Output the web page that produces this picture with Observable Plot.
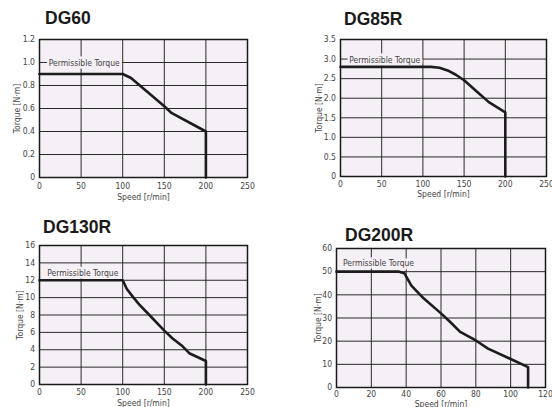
<!DOCTYPE html>
<html><head><meta charset="utf-8">
<script src="https://cdn.jsdelivr.net/npm/d3@7"></script>
<script src="https://cdn.jsdelivr.net/npm/@observablehq/plot@0.6"></script>
<style>
html,body{margin:0;padding:0;background:#fff;}
#root{position:relative;width:552px;height:407px;overflow:hidden;background:#fff;}
.title{position:absolute;font-family:"Liberation Sans",Arial,sans-serif;font-weight:bold;font-size:17.5px;line-height:1;color:#1a1a1a;white-space:nowrap;}
.panel{position:absolute;}
</style></head><body><div id="root"></div>
<script>
// ---- data ----
const titles = ["DG60", "DG85R", "DG130R", "DG200R"];
const labelText = "Permissible Torque";
const xLabel = "Speed [r/min]";
const yLabel = "Torque [N·m]";

const speedTicks250 = [0, 50, 100, 150, 200, 250];
const speedTicks120 = [0, 20, 40, 60, 80, 100, 120];
const dg60Ticks = [0, 0.2, 0.4, 0.6, 0.8, 1.0, 1.2];
const dg85Ticks = [0, 0.5, 1.0, 1.5, 2.0, 2.5, 3.0, 3.5];
const dg130Ticks = [0, 2, 4, 6, 8, 10, 12, 14, 16];
const dg200Ticks = [0, 10, 20, 30, 40, 50, 60];

const dg60Speed  = [0, 100, 110, 150, 158, 200, 200];
const dg60Torque = [0.9, 0.9, 0.865, 0.62, 0.565, 0.4, 0];

const dg85Speed  = [0, 110, 120, 130, 140, 150, 165, 180, 200, 200];
const dg85Torque = [2.8, 2.8, 2.78, 2.71, 2.6, 2.46, 2.18, 1.9, 1.64, 0];

const dg130Speed  = [0, 100, 105, 113, 120, 130, 150, 160, 172, 180, 200, 200];
const dg130Torque = [12, 12, 11, 10, 9.2, 8.2, 6.2, 5.3, 4.4, 3.6, 2.7, 0];

const dg200Speed  = [0, 36, 39, 43, 50, 60, 65, 71, 80, 87, 100, 110, 110];
const dg200Torque = [50, 50, 49.3, 44, 38.5, 32, 28.5, 24, 20.3, 16.8, 12.3, 8.8, 0];

// label anchor positions (data units)
const labelPos = [[11, 1.0], [10.5, 3.0], [9.3, 12.9], [3.7, 54]];

// ---- drawing ----
const FONT = "'Liberation Sans Narrow','DejaVu Sans Condensed','Arial Narrow',sans-serif";
const BG = "#f5f0f6";
const fmt1 = d => d === 0 ? "0" : d.toFixed(1);
const fmt0 = d => String(d);

const panels = [
  {area:[39,39,247,177], xDomain:[0,250], xTicks:speedTicks250, yDomain:[0,1.2], yTicks:dg60Ticks, yFmt:fmt1,
   speed:dg60Speed, torque:dg60Torque, yOff:26, xPad:5, xOff:22, title:[45,10.2]},
  {area:[340,39,546,176], xDomain:[0,250], xTicks:speedTicks250, yDomain:[0,3.5], yTicks:dg85Ticks, yFmt:fmt1,
   speed:dg85Speed, torque:dg85Torque, yOff:25, xPad:4.5, xOff:20.5, title:[344,11.2]},
  {area:[39,245,247,384], xDomain:[0,250], xTicks:speedTicks250, yDomain:[0,16], yTicks:dg130Ticks, yFmt:fmt0,
   speed:dg130Speed, torque:dg130Torque, yOff:23, xPad:4.5, xOff:21, title:[43,218.5]},
  {area:[336,248,545,387], xDomain:[0,120], xTicks:speedTicks120, yDomain:[0,60], yTicks:dg200Ticks, yFmt:fmt0,
   speed:dg200Speed, torque:dg200Torque, yOff:22, xPad:3.5, xOff:19.5, title:[345,227]}
];

const root = document.getElementById("root");
const mL = 44, mR = 12, mT = 8, mB = 32;

panels.forEach((p, i) => {
  const [L, T, R, B] = p.area;
  const pts = p.speed.map((s, j) => ({s, t: p.torque[j]}));
  const lab = [{x: labelPos[i][0], y: labelPos[i][1], text: labelText}];
  const chart = Plot.plot({
    width: R - L + mL + mR,
    height: B - T + mT + mB,
    marginLeft: mL, marginRight: mR, marginTop: mT, marginBottom: mB,
    style: {fontFamily: FONT, fontSize: "8.5px", color: "#444", background: "transparent", overflow: "visible"},
    x: {domain: p.xDomain},
    y: {domain: p.yDomain},
    marks: [
      Plot.frame({fill: BG, stroke: null}),
      Plot.gridX(p.xTicks, {stroke: "#2a2a2a", strokeOpacity: 1, strokeWidth: 1}),
      Plot.gridY(p.yTicks, {stroke: "#2a2a2a", strokeOpacity: 1, strokeWidth: 1}),
      Plot.text(lab, {x: "x", y: "y", text: "text", textAnchor: "start", fill: "#444", stroke: BG, strokeWidth: 5, fontSize: 8.5, dy: 1}),
      Plot.line(pts, {x: "s", y: "t", stroke: "#1c1c1c", strokeWidth: 2.6}),
      Plot.frame({stroke: "#1a1a1a", strokeWidth: 1.5}),
      Plot.axisX(p.xTicks, {tickSize: 0, tickPadding: p.xPad, fill: "#444", label: xLabel, labelAnchor: "center", labelOffset: p.xOff, labelArrow: "none"}),
      Plot.axisY(p.yTicks, {tickSize: 0, tickPadding: 4.5, fill: "#444", tickFormat: p.yFmt, label: yLabel, labelAnchor: "center", labelOffset: p.yOff, labelArrow: "none"})
    ]
  });
  chart.classList.add("panel");
  chart.style.left = (L - mL) + "px";
  chart.style.top = (T - mT) + "px";
  root.appendChild(chart);

  const t = document.createElement("div");
  t.className = "title";
  t.textContent = titles[i];
  t.style.left = p.title[0] + "px";
  t.style.top = p.title[1] + "px";
  root.appendChild(t);
});
</script>
</body></html>
